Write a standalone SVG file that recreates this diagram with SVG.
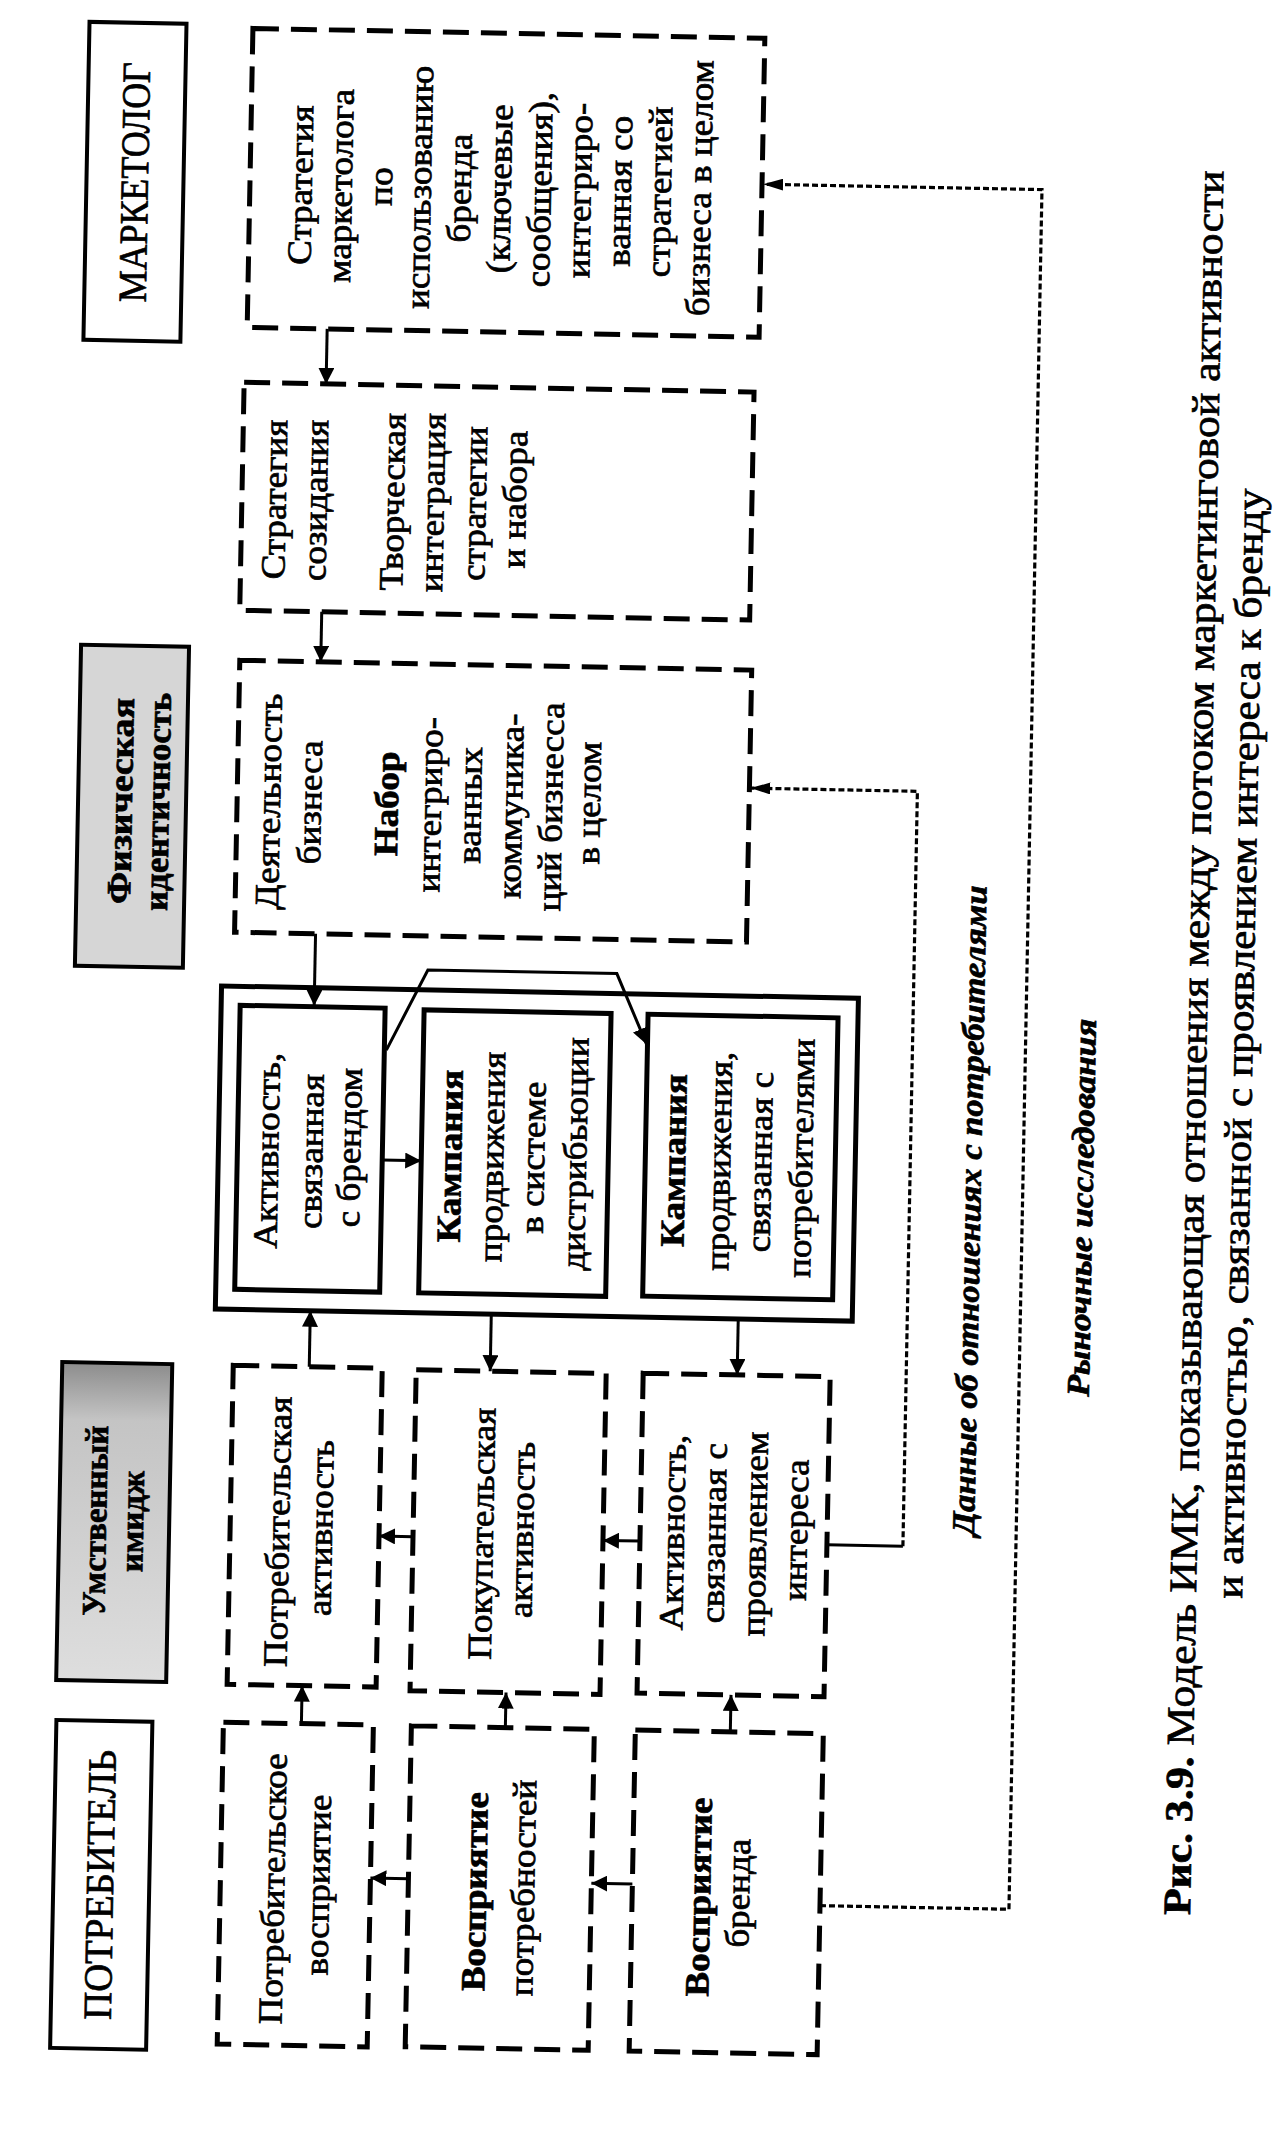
<svg xmlns="http://www.w3.org/2000/svg" width="1277" height="2139" viewBox="0 0 1277 2139">
<defs>
<style>
.sb{fill:none;stroke:#000;stroke-width:4}
.db{fill:none;stroke:#000;stroke-width:5;stroke-dasharray:26 12}
.ib{fill:none;stroke:#000;stroke-width:5}
.ln{fill:none;stroke:#000;stroke-width:3}
.dl{fill:none;stroke:#000;stroke-width:3.2;stroke-dasharray:6 3}
text{font-family:"Liberation Serif","DejaVu Serif",serif;fill:#000;stroke:#000;stroke-width:0.7;text-anchor:middle}
.t{font-size:34px}
.b{font-weight:bold}
.h{font-size:40px}
.hb{font-size:34px;font-weight:bold}
.lab{font-size:32px;font-weight:bold;font-style:italic}
.cap{font-size:39px}
</style>
<marker id="ah" markerUnits="userSpaceOnUse" markerWidth="16" markerHeight="16" refX="16" refY="8" orient="auto">
<path d="M0,0 L16,8 L0,16 z" fill="#000"/>
</marker>
<marker id="dh" markerUnits="userSpaceOnUse" markerWidth="20" markerHeight="12" refX="20" refY="6" orient="auto">
<path d="M0,0 L20,6 L0,12 z" fill="#000"/>
</marker>
<linearGradient id="gU" x1="0" y1="0" x2="0" y2="1">
<stop offset="0" stop-color="#8c8c8c"/>
<stop offset="0.18" stop-color="#c4c4c4"/>
<stop offset="1" stop-color="#dedede"/>
</linearGradient>
</defs>
<rect width="1277" height="2139" fill="#fff"/>
<g transform="rotate(1.1 638 1070)">

<g id="hdr-marketolog">
<rect class="sb" x="69.5" y="32.6" width="97" height="318"/>
<text class="h" transform="translate(0,192) rotate(-90)" x="0" y="131" textLength="240" lengthAdjust="spacingAndGlyphs">МАРКЕТОЛОГ</text>
</g>

<g id="hdr-physical">
<rect x="73" y="655.5" width="108" height="321" fill="#d6d6d6" stroke="#000" stroke-width="4"/>
<text class="hb" transform="translate(0,811) rotate(-90)" x="0" y="127" textLength="206" lengthAdjust="spacingAndGlyphs">Физическая</text>
<text class="hb" transform="translate(0,811) rotate(-90)" x="0" y="164" textLength="218" lengthAdjust="spacingAndGlyphs">идентичность</text>
</g>

<g id="hdr-mental">
<rect x="68" y="1373" width="110" height="318" fill="url(#gU)" stroke="#000" stroke-width="4"/>
<text class="hb" style="font-size:33px" transform="translate(0,1531) rotate(-90)"><tspan x="0" y="115">Умственный</tspan><tspan x="0" y="152">имидж</tspan></text>
</g>

<g id="hdr-consumer">
<rect class="sb" x="69" y="1731" width="96" height="328"/>
<text class="h" transform="translate(0,1895) rotate(-90)" x="0" y="129" textLength="270" lengthAdjust="spacingAndGlyphs">ПОТРЕБИТЕЛЬ</text>
</g>

<g id="n-strategy-marketer">
<rect class="db" x="233" y="36" width="512" height="299"/>
<text class="t" transform="translate(0,187) rotate(-90) scale(1.09,1)">
<tspan x="0" y="295">Стратегия</tspan>
<tspan x="0" y="335">маркетолога</tspan>
<tspan x="0" y="375">по</tspan>
<tspan x="0" y="414">использованию</tspan>
<tspan x="0" y="454">бренда</tspan>
<tspan x="0" y="494">(ключевые</tspan>
<tspan x="0" y="534">сообщения),</tspan>
<tspan x="0" y="574">интегриро-</tspan>
<tspan x="0" y="614">ванная со</tspan>
<tspan x="0" y="654">стратегией</tspan>
<tspan x="0" y="694">бизнеса в целом</tspan>
</text>
</g>

<g id="n-creation">
<rect class="db" x="231" y="390" width="510" height="228"/>
<text class="t" transform="translate(0,502) rotate(-90) scale(1.09,1)">
<tspan x="0" y="275">Стратегия</tspan>
<tspan x="0" y="316">созидания</tspan>
<tspan x="0" y="393">Творческая</tspan>
<tspan x="0" y="433">интеграция</tspan>
<tspan x="0" y="475">стратегии</tspan>
<tspan x="0" y="515">и набора</tspan>
</text>
</g>

<g id="n-business">
<rect class="db" x="232" y="668" width="512" height="272"/>
<text class="t" transform="translate(0,804) rotate(-90) scale(1.09,1)">
<tspan x="0" y="275">Деятельность</tspan>
<tspan x="0" y="316">бизнеса</tspan>
<tspan x="0" y="393" class="b">Набор</tspan>
<tspan x="0" y="436">интегриро-</tspan>
<tspan x="0" y="476">ванных</tspan>
<tspan x="0" y="517">коммуника-</tspan>
<tspan x="0" y="557">ций бизнесса</tspan>
<tspan x="0" y="595">в целом</tspan>
</text>
</g>

<g id="n-outer">
<rect class="ib" x="220" y="994" width="637" height="323"/>
</g>

<g id="n-brand-activity">
<rect class="ib" x="239" y="1013" width="145" height="284"/>
<text class="t" transform="translate(0,1153) rotate(-90) scale(1.09,1)">
<tspan x="0" y="280">Активность,</tspan>
<tspan x="0" y="324">связанная</tspan>
<tspan x="0" y="362">с брендом</tspan>
</text>
</g>

<g id="n-distribution">
<rect class="ib" x="423" y="1014" width="187" height="283"/>
<text class="t" transform="translate(0,1155) rotate(-90) scale(1.09,1)">
<tspan x="0" y="463" class="b">Кампания</tspan>
<tspan x="0" y="505">продвижения</tspan>
<tspan x="0" y="546">в системе</tspan>
<tspan x="0" y="588">дистрибьюции</tspan>
</text>
</g>

<g id="n-consumer-promo">
<rect class="ib" x="647" y="1014" width="190" height="282"/>
<text class="t" transform="translate(0,1155) rotate(-90) scale(1.09,1)">
<tspan x="0" y="687" class="b">Кампания</tspan>
<tspan x="0" y="732">продвижения,</tspan>
<tspan x="0" y="773">связанная с</tspan>
<tspan x="0" y="814">потребителями</tspan>
</text>
</g>

<g id="n-consumer-activity">
<rect class="db" x="239" y="1373" width="149" height="319"/>
<text class="t" transform="translate(0,1534) rotate(-90) scale(1.09,1)">
<tspan x="0" y="298">Потребительская</tspan>
<tspan x="0" y="341">активность</tspan>
</text>
</g>

<g id="n-purchase-activity">
<rect class="db" x="422" y="1374" width="190" height="321"/>
<text class="t" transform="translate(0,1532) rotate(-90) scale(1.09,1)">
<tspan x="0" y="502">Покупательская</tspan>
<tspan x="0" y="542">активность</tspan>
</text>
</g>

<g id="n-interest-activity">
<rect class="db" x="649" y="1373" width="187" height="320"/>
<text class="t" transform="translate(0,1527) rotate(-90) scale(1.09,1)">
<tspan x="0" y="693">Активность,</tspan>
<tspan x="0" y="734">связанная с</tspan>
<tspan x="0" y="775">проявлением</tspan>
<tspan x="0" y="816">интереса</tspan>
</text>
</g>

<g id="n-consumer-perception">
<rect class="db" x="236" y="1730" width="150" height="322"/>
<text class="t" transform="translate(0,1891) rotate(-90) scale(1.09,1)">
<tspan x="0" y="300">Потребительское</tspan>
<tspan x="0" y="345">восприятие</tspan>
</text>
</g>

<g id="n-needs-perception">
<rect class="db" x="424" y="1730" width="183" height="321"/>
<text class="t" transform="translate(0,1890) rotate(-90) scale(1.09,1)">
<tspan x="0" y="502" class="b">Восприятие</tspan>
<tspan x="0" y="550">потребностей</tspan>
</text>
</g>

<g id="n-brand-perception">
<rect class="db" x="648" y="1730" width="188" height="321"/>
<text class="t" transform="translate(0,1891) rotate(-90) scale(1.09,1)">
<tspan x="0" y="726" class="b">Восприятие</tspan>
<tspan x="0" y="765">бренда</tspan>
</text>
</g>

<g id="connectors">
<path class="ln" marker-end="url(#ah)" d="M313 335 V390"/>
<path class="ln" marker-end="url(#ah)" d="M313 618 V668"/>
<path class="ln" marker-end="url(#ah)" d="M313 940 V1012"/>
<path class="ln" marker-end="url(#ah)" d="M384 1165 H423"/>
<path class="ln" marker-end="url(#ah)" d="M386 1055 L426 974 L615 974 L646 1044"/>
<path class="ln" marker-end="url(#ah)" d="M315 1373 V1317"/>
<path class="ln" marker-end="url(#ah)" d="M496 1317 V1374"/>
<path class="ln" marker-end="url(#ah)" d="M743 1317 V1373"/>
<path class="ln" marker-end="url(#ah)" d="M314 1730 V1692"/>
<path class="ln" marker-end="url(#ah)" d="M518 1730 V1695"/>
<path class="ln" marker-end="url(#ah)" d="M743 1730 V1693"/>
<path class="ln" marker-end="url(#ah)" d="M422 1541 H388"/>
<path class="ln" marker-end="url(#ah)" d="M649 1541 H612"/>
<path class="ln" marker-end="url(#ah)" d="M424 1883 H386"/>
<path class="ln" marker-end="url(#ah)" d="M648 1884 H607"/>
<path class="ln" d="M836 1541 H912"/>
<path class="dl" marker-end="url(#dh)" d="M912 1541 V786 H745"/>
<path class="dl" marker-end="url(#dh)" d="M836 1902 H1025 V182 H746"/>
</g>

<g id="labels">
<text class="lab" transform="translate(0,1204) rotate(-90)" x="0" y="983" textLength="650" lengthAdjust="spacingAndGlyphs">Данные об отношениях с потребителями</text>
<text class="lab" transform="translate(0,1199) rotate(-90)" x="0" y="1095" textLength="378" lengthAdjust="spacingAndGlyphs">Рыночные исследования</text>
</g>

<g id="caption">
<text class="cap" transform="translate(0,1032) rotate(-90)" x="0" y="1206" textLength="1745" lengthAdjust="spacingAndGlyphs"><tspan class="b">Рис. 3.9.</tspan> Модель ИМК, показывающая отношения между потоком маркетинговой активности</text>
<text class="cap" transform="translate(0,1032) rotate(-90)" x="0" y="1252" textLength="1110" lengthAdjust="spacingAndGlyphs">и активностью, связанной с проявлением интереса к бренду</text>
</g>

</g>
</svg>
